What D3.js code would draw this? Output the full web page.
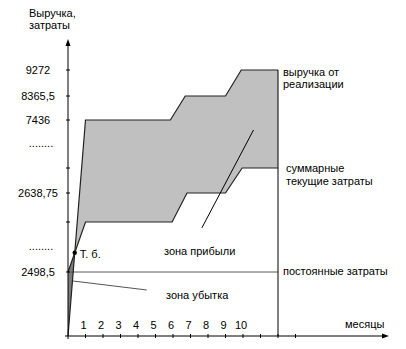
<!DOCTYPE html>
<html>
<head>
<meta charset="utf-8">
<script src="https://cdn.jsdelivr.net/npm/d3@7"></script>
<style>
body{margin:0;background:#fff;}
svg text{font-family:"Liberation Sans",Arial,sans-serif;font-size:11px;fill:#000;}
</style>
</head>
<body>
<div id="chart"></div>
<script>
'use strict';

// months (ticks on x axis) and the labelled ones
var monthTicks = [1,2,3,4,5,6,7,8,9,10,11,12,13];
var monthLabels = [1,2,3,4,5,6,7,8,9,10];
var endMonth = 12;

// broken y axis: levels from bottom to top
var yLevels = [0, 2498.5, 2575, 2638.75, 2702, 7436, 8365.5, 9272];
var yTicks = [2498.5, 2575, 2638.75, 2702, 7436, 8365.5, 9272];
var yTickLabels = ['2498,5', '', '2638,75', '', '7436', '8365,5', '9272'];
// "......" break marks sit between these pairs of levels
var yBreaks = [[2498.5, 2575], [2702, 7436]];

// revenue from sales
var revMonths = [0, 1, 5.85, 6.7, 9, 9.9, 12];
var revValues = [0, 7436, 7436, 8365.5, 8365.5, 9272, 9272];

// total current costs
var costMonths = [0, 1, 5.95, 6.8, 9, 9.95, 12];
var costValues = [2498.5, 2575, 2575, 2638.75, 2638.75, 2702, 2702];

// fixed costs
var fixedCost = 2498.5;

// pointer lines for zone labels [month, value]
var profitPointer = [[7.65, 2566], [10.6, 6450]];
var lossPointer = [[0.29, 2147], [4.5, 1796]];

/******************************************/
var width = 406, height = 349;
var x0 = 68, y0 = 336;

var x = d3.scaleLinear().domain([0, endMonth]).range([x0, 278]);
var y = d3.scaleLinear().domain(yLevels).range([y0, 272, 222, 193, 168, 120, 96, 70]);

var svg = d3.select("#chart")
    .append("svg")
        .attr("width", width)
        .attr("height", height);

var rev = revMonths.map(function(m, i){ return [x(m), y(revValues[i])]; });
var cost = costMonths.map(function(m, i){ return [x(m), y(costValues[i])]; });

// break-even point: where the first revenue and cost segments cross
function cross(a1, a2, b1, b2){
    var d = (a2[0]-a1[0])*(b2[1]-b1[1]) - (a2[1]-a1[1])*(b2[0]-b1[0]);
    var t = ((b1[0]-a1[0])*(b2[1]-b1[1]) - (b1[1]-a1[1])*(b2[0]-b1[0])) / d;
    return [a1[0] + t*(a2[0]-a1[0]), a1[1] + t*(a2[1]-a1[1])];
}
var be = cross(rev[0], rev[1], cost[0], cost[1]);

var line = d3.line();

// profit zone
var profit = [be].concat(rev.slice(1)).concat(cost.slice(1).reverse());
svg.append("path")
    .attr("d", line(profit) + "Z")
    .attr("fill", "#c0c0c0")
    .attr("stroke", "none");

// loss zone
svg.append("path")
    .attr("d", line([rev[0], be, cost[0]]) + "Z")
    .attr("fill", "#7c7c7c")
    .attr("stroke", "none");

// fixed costs
svg.append("line")
    .attr("x1", x(0)).attr("x2", x(endMonth))
    .attr("y1", y(fixedCost)).attr("y2", y(fixedCost))
    .attr("stroke", "#5a5a5a");

// revenue and costs lines
svg.append("path")
    .attr("d", line(rev))
    .attr("fill", "none").attr("stroke", "#222").attr("stroke-width", 1.2);
svg.append("path")
    .attr("d", line(cost))
    .attr("fill", "none").attr("stroke", "#222").attr("stroke-width", 1.2);

// right border at the last month
svg.append("line")
    .attr("x1", x(endMonth)).attr("x2", x(endMonth))
    .attr("y1", y(revValues[revValues.length-1])).attr("y2", y0)
    .attr("stroke", "#000");

// pointers
svg.append("path")
    .attr("d", line(profitPointer.map(function(d){ return [x(d[0]), y(d[1])]; })))
    .attr("stroke", "#000").attr("fill", "none");
svg.append("path")
    .attr("d", line(lossPointer.map(function(d){ return [x(d[0]), y(d[1])]; })))
    .attr("stroke", "#555").attr("fill", "none");

// Y axis
svg.append("line")
    .attr("x1", x0).attr("x2", x0).attr("y1", y0 + 3).attr("y2", 42)
    .attr("stroke", "#000");
svg.append("path")
    .attr("d", "M" + x0 + ",39L" + (x0-2.5) + ",46L" + (x0+2.5) + ",46Z")
    .attr("fill", "#000");
svg.selectAll(".ytick")
    .data(yTicks)
    .enter()
        .append("line")
          .attr("class", "ytick")
          .attr("x1", x0 - 2).attr("x2", x0 + 2)
          .attr("y1", function(d){ return y(d); })
          .attr("y2", function(d){ return y(d); })
          .attr("stroke", "#000");
svg.selectAll(".ylab")
    .data(yTicks)
    .enter()
        .append("text")
          .attr("class", "ylab")
          .attr("x", 38)
          .attr("y", function(d){ return y(d); })
          .attr("dy", "0.35em")
          .attr("text-anchor", "middle")
          .text(function(d, i){ return yTickLabels[i]; });
svg.selectAll(".ybreak")
    .data(yBreaks)
    .enter()
        .append("text")
          .attr("class", "ybreak")
          .attr("x", 41)
          .attr("y", function(d){ return (y(d[0]) + y(d[1]))/2 + 3; })
          .attr("text-anchor", "middle")
          .attr("fill", "#666")
          .text("........");

// X axis
svg.append("line")
    .attr("x1", x0 - 3).attr("x2", 385).attr("y1", y0).attr("y2", y0)
    .attr("stroke", "#000");
svg.append("path")
    .attr("d", "M389," + y0 + "L382," + (y0-2.5) + "L382," + (y0+2.5) + "Z")
    .attr("fill", "#000");
svg.selectAll(".xtick")
    .data(monthTicks)
    .enter()
        .append("line")
          .attr("class", "xtick")
          .attr("x1", function(d){ return x(d); })
          .attr("x2", function(d){ return x(d); })
          .attr("y1", y0 - 2).attr("y2", y0 + 2)
          .attr("stroke", "#000");
svg.selectAll(".xlab")
    .data(monthLabels)
    .enter()
        .append("text")
          .attr("class", "xlab")
          .attr("x", function(d){ return x(d) - 2; })
          .attr("y", 329)
          .attr("text-anchor", "middle")
          .text(function(d){ return d; });

// break-even point
svg.append("circle")
    .attr("cx", be[0]).attr("cy", be[1]).attr("r", 2.2)
    .attr("fill", "#000");
svg.append("text").attr("x", be[0] + 5).attr("y", be[1] + 5).text("Т. б.");

// texts
svg.append("text").attr("x", 29).attr("y", 17).text("Выручка,");
svg.append("text").attr("x", 29).attr("y", 29).text("затраты");
svg.append("text").attr("x", 283).attr("y", 76).text("выручка от");
svg.append("text").attr("x", 283).attr("y", 88).text("реализации");
svg.append("text").attr("x", 286).attr("y", 172).text("суммарные");
svg.append("text").attr("x", 286).attr("y", 185).text("текущие затраты");
svg.append("text").attr("x", 283).attr("y", 275).text("постоянные затраты");
svg.append("text").attr("x", 164).attr("y", 255).text("зона прибыли");
svg.append("text").attr("x", 166).attr("y", 299).text("зона убытка");
svg.append("text").attr("x", 345).attr("y", 328).text("месяцы");
/******************************************/
</script>
</body>
</html>
